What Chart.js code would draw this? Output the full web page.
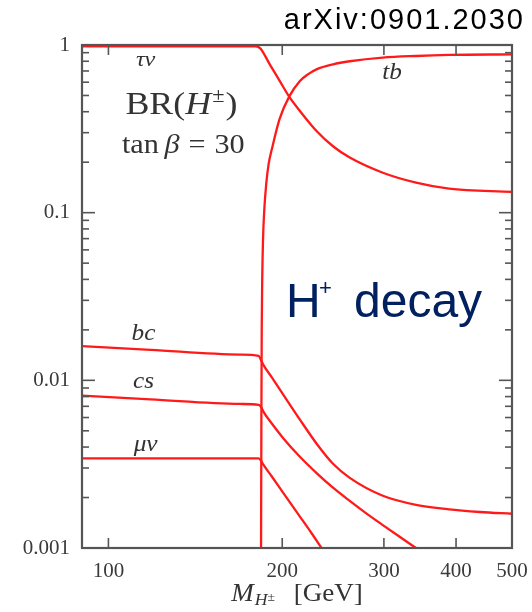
<!DOCTYPE html>
<html>
<head>
<meta charset="utf-8">
<script src="https://cdn.jsdelivr.net/npm/chart.js@4/dist/chart.umd.min.js"></script>
<style>
  html, body { margin: 0; padding: 0; background: #ffffff; }
  canvas { display: block; }
</style>
</head>
<body>
<canvas id="c" width="532" height="612"></canvas>
<script>
// ---- data (BR vs charged Higgs mass, tan beta = 30) ----
const massTauNu = [90, 150, 180, 181.6, 183.5, 190.5, 198.2, 205.6, 214.6, 229.3, 244.9, 261.8, 298.7, 341, 389, 500];
const brTauNu   = [0.98, 0.98, 0.98, 0.975, 0.95, 0.762, 0.607, 0.492, 0.404, 0.307, 0.249, 0.213, 0.173, 0.151, 0.139, 0.133];

const massTB = [183.8, 184.04, 184.3, 184.66, 185.25, 186.2, 187.6, 189.4, 192.4, 197.8, 205.6, 214.6, 221.5, 229.3, 244.9, 261.8, 298.7, 341, 389, 500];
const brTB   = [0.001, 0.00583, 0.0201, 0.0399, 0.0692, 0.1045, 0.1474, 0.194, 0.2484, 0.36, 0.492, 0.61, 0.668, 0.716, 0.767, 0.80, 0.841, 0.86, 0.872, 0.88];

const massBC = [90, 118.3, 169, 182, 184, 185.4, 192, 200.8, 214.6, 230.1, 244.9, 261.8, 298.7, 341, 389, 440, 500];
const brBC   = [0.0160, 0.0152, 0.01423, 0.0140, 0.0131, 0.0124, 0.01038, 0.00822, 0.00583, 0.00413, 0.00318, 0.00262, 0.00205, 0.00181, 0.0017, 0.00164, 0.0016];

const massCS = [90, 118.3, 169, 182, 184, 185.4, 192, 200.8, 214.6, 230.1, 244.9, 261.8, 279.6, 298.7, 319, 341];
const brCS   = [0.0081, 0.0077, 0.00723, 0.00713, 0.0069, 0.00653, 0.00551, 0.00452, 0.0035, 0.00277, 0.00229, 0.00191, 0.00161, 0.00137, 0.00117, 0.001];

const massMuNu = [90, 150, 182, 184, 185.4, 192, 200.8, 214.6, 225, 233.9];
const brMuNu   = [0.00342, 0.00342, 0.00342, 0.0033, 0.00315, 0.00266, 0.00213, 0.00154, 0.00122, 0.001];

const xTickValues = [100, 200, 300, 400, 500];
const xTickLabels = ['100', '200', '300', '400', '500'];
const yTickValues = [0.001, 0.01, 0.1, 1];
const yTickLabels = ['0.001', '0.01', '0.1', '1'];

const channelNames = ['τν', 'tb', 'bc', 'cs', 'μν'];

function pts(xs, ys) { return xs.map((x, i) => ({ x: x, y: ys[i] })); }

const RED = '#ff1a1a';
const SERIF = '"Liberation Serif", "DejaVu Serif", serif';
const SANS = '"Liberation Sans", Arial, sans-serif';

// draw a sequence of text pieces (mixed fonts) horizontally scaled, centred at cx, baseline by
function drawRich(ctx, pieces, cx, by, sx) {
  ctx.save();
  ctx.textBaseline = 'alphabetic';
  ctx.textAlign = 'left';
  let w = 0;
  pieces.forEach(p => { ctx.font = p.font; w += ctx.measureText(p.t).width + (p.gap || 0); });
  ctx.translate(cx, by);
  ctx.scale(sx, 1);
  let x = -w / 2;
  pieces.forEach(p => {
    ctx.font = p.font;
    ctx.fillText(p.t, x, p.dy || 0);
    x += ctx.measureText(p.t).width + (p.gap || 0);
  });
  ctx.restore();
}

const frameTicks = {
  id: 'frameTicks',
  afterDatasetsDraw(chart) {
    const { ctx, chartArea: a, scales: { x, y } } = chart;
    ctx.save();
    ctx.strokeStyle = '#555555';
    ctx.lineWidth = 1.6;
    const seg = (x1, y1, x2, y2) => { ctx.beginPath(); ctx.moveTo(x1, y1); ctx.lineTo(x2, y2); ctx.stroke(); };
    for (let e = -3; e <= 0; e++) {
      for (let m = 1; m <= 9; m++) {
        const v = m * Math.pow(10, e);
        if (v > 1.0001) break;
        const py = y.getPixelForValue(v);
        const len = m === 1 ? 13 : 7;
        seg(a.left, py, a.left + len, py);
        seg(a.right, py, a.right - len, py);
      }
    }
    xTickValues.slice(0, 4).forEach(v => {
      const px = x.getPixelForValue(v);
      seg(px, a.bottom, px, a.bottom - 10);
      seg(px, a.top, px, a.top + 10);
    });
    ctx.lineWidth = 2.2;
    ctx.strokeRect(a.left, a.top, a.right - a.left, a.bottom - a.top);
    ctx.restore();
  }
};

const textLayer = {
  id: 'textLayer',
  afterDraw(chart) {
    const { ctx, chartArea: a, scales: { x, y } } = chart;
    const X = v => x.getPixelForValue(v);
    const Y = v => y.getPixelForValue(v);
    ctx.save();
    ctx.fillStyle = '#333333';
    // channel labels
    drawRich(ctx, [{ t: channelNames[0], font: 'italic 22px ' + SERIF }], X(116), Y(0.746), 1.1);
    drawRich(ctx, [{ t: channelNames[1], font: 'italic 23px ' + SERIF }], X(310), Y(0.624), 1.1);
    drawRich(ctx, [{ t: channelNames[2], font: 'italic 23px ' + SERIF }], X(115), Y(0.0175), 1.1);
    drawRich(ctx, [{ t: channelNames[3], font: 'italic 23px ' + SERIF }], X(115), Y(0.00905), 1.1);
    drawRich(ctx, [{ t: channelNames[4], font: 'italic 23px ' + SERIF }], X(116), Y(0.0038), 1.1);
    // BR(H±)
    drawRich(ctx, [
      { t: 'BR(', font: '32px ' + SERIF },
      { t: 'H', font: 'italic 32px ' + SERIF, gap: 1 },
      { t: '±', font: '20px ' + SERIF, dy: -12, gap: 1 },
      { t: ')', font: '32px ' + SERIF }
    ], X(133.8), Y(0.386), 1.12);
    // tan beta = 30
    drawRich(ctx, [
      { t: 'tan', font: '27px ' + SERIF, gap: 5 },
      { t: 'β', font: 'italic 27px ' + SERIF, gap: 8 },
      { t: '=', font: '27px ' + SERIF, gap: 8 },
      { t: '30', font: '27px ' + SERIF }
    ], X(134.8), Y(0.228), 1.12);
    // axis title
    drawRich(ctx, [
      { t: 'M', font: 'italic 26px ' + SERIF, gap: 1 },
      { t: 'H', font: 'italic 17px ' + SERIF, dy: 4 },
      { t: '±', font: '13px ' + SERIF, dy: 0, gap: 18 },
      { t: '[GeV]', font: '26px ' + SERIF }
    ], (a.left + a.right) / 2, 601, 1.04);
    // "H+ decay"
    ctx.fillStyle = '#002060';
    ctx.textBaseline = 'alphabetic';
    ctx.textAlign = 'left';
    ctx.font = '48px ' + SANS;
    ctx.fillText('H', 286, 317);
    ctx.font = '22px ' + SANS;
    ctx.fillText('+', 319, 295);
    ctx.font = '48px ' + SANS;
    ctx.fillText('decay', 354, 317);
    // arXiv reference
    ctx.fillStyle = '#000000';
    ctx.font = '29px ' + SANS;
    ctx.textAlign = 'right';
    try { ctx.letterSpacing = '2px'; } catch (e) {}
    ctx.fillText('arXiv:0901.2030', 525, 29);
    ctx.restore();
  }
};

const lineStyle = { borderColor: RED, borderWidth: 2.3, pointRadius: 0, cubicInterpolationMode: 'monotone', fill: false };

new Chart(document.getElementById('c'), {
  type: 'line',
  data: {
    datasets: [
      Object.assign({ label: channelNames[0], data: pts(massTauNu, brTauNu) }, lineStyle),
      Object.assign({ label: channelNames[1], data: pts(massTB, brTB) }, lineStyle),
      Object.assign({ label: channelNames[2], data: pts(massBC, brBC) }, lineStyle),
      Object.assign({ label: channelNames[3], data: pts(massCS, brCS) }, lineStyle),
      Object.assign({ label: channelNames[4], data: pts(massMuNu, brMuNu) }, lineStyle)
    ]
  },
  options: {
    responsive: false,
    animation: false,
    events: [],
    layout: { padding: { top: 45, right: 20, left: 0, bottom: 0 } },
    plugins: { legend: { display: false }, tooltip: { enabled: false }, title: { display: false } },
    scales: {
      x: {
        type: 'logarithmic',
        min: 90, max: 500,
        grid: { display: false, drawTicks: false },
        border: { display: false },
        afterBuildTicks: s => { s.ticks = xTickValues.map(v => ({ value: v })); },
        afterFit: s => { s.height = 64; s.paddingLeft = 0; s.paddingRight = 0; },
        ticks: {
          autoSkip: false, maxRotation: 0,
          padding: 11,
          color: '#3a3a3a',
          font: { family: SERIF, size: 21 },
          callback: v => xTickLabels[xTickValues.indexOf(v)]
        }
      },
      y: {
        type: 'logarithmic',
        min: 0.001, max: 1,
        grid: { display: false, drawTicks: false },
        border: { display: false },
        afterBuildTicks: s => { s.ticks = yTickValues.map(v => ({ value: v })); },
        afterFit: s => { s.width = 82; s.paddingTop = 0; s.paddingBottom = 0; },
        ticks: {
          autoSkip: false,
          padding: 12,
          color: '#3a3a3a',
          font: { family: SERIF, size: 21 },
          callback: v => yTickLabels[yTickValues.indexOf(v)]
        }
      }
    }
  },
  plugins: [frameTicks, textLayer]
});
</script>
</body>
</html>
